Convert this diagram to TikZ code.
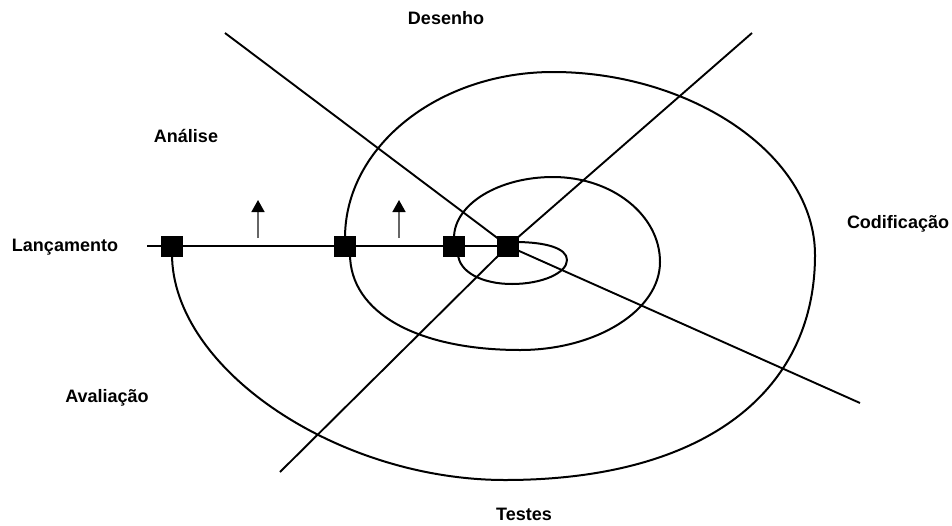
\documentclass[tikz,border=0pt]{standalone}
\usepackage{fontspec}
\setmainfont{Liberation Sans}
\usetikzlibrary{arrows.meta}
\begin{document}
\begin{tikzpicture}[x=1pt,y=-1pt,
  lbl/.style={font=\fontsize{18}{21}\selectfont\bfseries, inner sep=0pt},
  sq/.style={draw=black, fill=black, minimum width=21pt, minimum height=20pt, inner sep=0pt},
  axis/.style={line width=1.9pt},
  spir/.style={line width=2pt, line join=round},
  uparrow/.style={line width=1.6pt, draw=black!60, -{Triangle[width=13pt,length=12pt,color=black]}}]
\useasboundingbox (0,0) rectangle (952,525);
% centres of squares
\coordinate (c1) at (172,246);
\coordinate (c2) at (345,246);
\coordinate (c3) at (454,246);
\coordinate (c4) at (508,246);
% free ends of the axes
\coordinate (hl) at (147,246);
\coordinate (nw) at (225,33);
\coordinate (ne) at (752,33);
\coordinate (se) at (860,403);
\coordinate (sw) at (280,472);
% axes
\draw[axis] (hl) -- (c4);
\draw[axis] (nw) -- (c4);
\draw[axis] (ne) -- (c4);
\draw[axis] (se) -- (c4);
\draw[axis] (sw) -- (c4);
% spiral: small loop
\draw[spir] (515,242) .. controls (545,242) and (567,248) .. (567,260)
  .. controls (567,273) and (542,284) .. (512,284)
  .. controls (482,284) and (459,272) .. (458,254);
% spiral: middle ring
\draw[spir] (454,238) .. controls (454,204) and (499,177) .. (553,177)
  .. controls (612,177) and (660,215) .. (660,262)
  .. controls (660,310) and (597,350) .. (520,350)
  .. controls (418,350) and (350,313) .. (350,254);
% spiral: outer ring
\draw[spir] (345,238) .. controls (345,146) and (439,72) .. (553,72)
  .. controls (690,72) and (815,154) .. (815,255)
  .. controls (815,395) and (700,480) .. (505,480)
  .. controls (338,480) and (172,369) .. (172,254);
% squares
\node[sq] (s1) at (c1) {};
\node[sq] (s2) at (c2) {};
\node[sq] (s3) at (c3) {};
\node[sq] (s4) at (c4) {};
% arrows
\coordinate (a1) at (258,238);
\coordinate (a1t) at (258,200);
\coordinate (a2) at (399,238);
\coordinate (a2t) at (399,200);
\draw[uparrow] (a1) -- (a1t);
\draw[uparrow] (a2) -- (a2t);
% labels
\node[lbl] (desenho) at (446,18) {Desenho};
\node[lbl] (analise) at (186,136) {Análise};
\node[lbl] (lanc) at (65,247) {Lançamento};
\node[lbl] (codif) at (898,224) {Codificação};
\node[lbl] (aval) at (107,398) {Avaliação};
\node[lbl] (testes) at (524,514) {Testes};
\end{tikzpicture}
\end{document}
